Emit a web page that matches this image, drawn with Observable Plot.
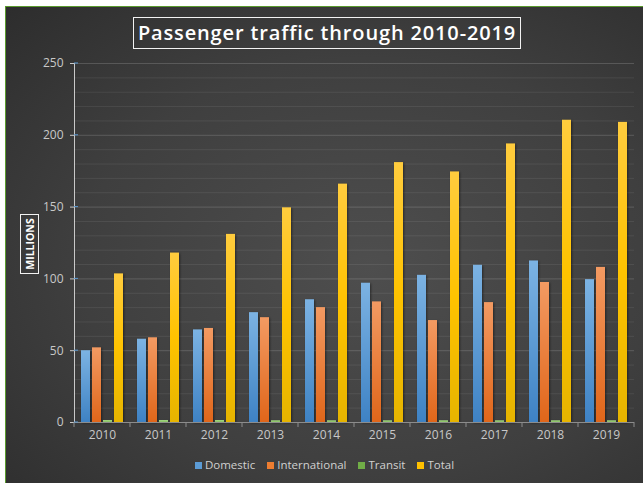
<!DOCTYPE html>
<html><head><meta charset="utf-8">
<script src="https://cdn.jsdelivr.net/npm/d3@7"></script>
<script src="https://cdn.jsdelivr.net/npm/@observablehq/plot@0.6"></script>
<style>
html,body{margin:0;padding:0;background:#fff;}
#wrap{position:relative;width:643px;height:483px;overflow:hidden;background:#fff;}
#frame{position:absolute;left:5px;top:6px;width:700px;height:540px;border:1.5px solid #5a9a2e;
  background: radial-gradient(ellipse 75% 70% at 52% 48%, #4e4e4e 0%, #3f3f3f 55%, #2c2c2c 100%);}
#title{position:absolute;left:133px;top:17px;width:386px;height:30px;border:1.5px solid #f2f2f2;
  color:#fff;font:600 20px "Open Sans",sans-serif;letter-spacing:0.85px;text-align:center;line-height:30px;white-space:nowrap;}
#ylab{position:absolute;left:20px;top:214px;width:17px;height:58px;border:1.5px solid #f2f2f2;}
#ylab span{position:absolute;left:50%;top:50%;transform:translate(-50%,-50%) rotate(-90deg);color:#fff;
  font:700 10.5px "Open Sans",sans-serif;white-space:nowrap;}
#chart{position:absolute;left:0;top:50px;}
#legend{position:absolute;top:457px;left:3px;width:643px;text-align:center;font:11.5px "Open Sans",sans-serif;color:#d0d0d0;white-space:nowrap;}
#legend .it{display:inline-block;margin:0 6px;}
#legend .sw{display:inline-block;width:7px;height:7px;margin-right:3px;vertical-align:0px;}
g[aria-label="y-axis"] path, g[aria-label="y-axis"] line{stroke:#5b9bd5;stroke-opacity:1;}
g[aria-label="y-axis"] text, g[aria-label="fx-axis"] text{fill:#c8c8c8;}
g[aria-label="bar"] rect{filter:drop-shadow(1px 1px 1px rgba(0,0,0,0.45));}
</style></head>
<body>
<svg width="0" height="0" style="position:absolute">
  <defs>
    <linearGradient id="gDom" x1="0" y1="0" x2="0" y2="1"><stop offset="0" stop-color="#7cb3e3"/><stop offset="1" stop-color="#3e82c4"/></linearGradient>
    <linearGradient id="gInt" x1="0" y1="0" x2="0" y2="1"><stop offset="0" stop-color="#f39a62"/><stop offset="1" stop-color="#e0661a"/></linearGradient>
    <linearGradient id="gTra" x1="0" y1="0" x2="0" y2="1"><stop offset="0" stop-color="#a6d886"/><stop offset="1" stop-color="#86c060"/></linearGradient>
    <linearGradient id="gTot" x1="0" y1="0" x2="0" y2="1"><stop offset="0" stop-color="#ffcc3e"/><stop offset="0.5" stop-color="#ffc300"/><stop offset="1" stop-color="#e6b400"/></linearGradient>
  </defs>
</svg>
<div id="wrap">
  <div id="frame"></div>
  <div id="title">Passenger traffic through 2010-2019</div>
  <div id="ylab"><span>MILLIONS</span></div>
  <div id="chart"></div>
  <div id="legend"></div>
</div>
<script>
const years = ["2010","2011","2012","2013","2014","2015","2016","2017","2018","2019"];
const seriesNames = ["Domestic","International","Transit","Total"];
const domestic = [50, 58, 64.5, 76.5, 85.5, 97, 102.5, 109.5, 112.5, 99.5];
const international = [52, 59, 65.5, 73, 80, 84, 71, 83.5, 97.5, 108];
const transit = [1.4, 1.4, 1.4, 1.2, 1.2, 1.2, 1.2, 1.2, 1.2, 1.2];
const total = [103.5, 118, 131, 149.5, 166, 181, 174.5, 194, 210.5, 209];
const majorTicks = [0, 50, 100, 150, 200, 250];
const minorTicks = [10,20,30,40,60,70,80,90,110,120,130,140,160,170,180,190,210,220,230,240];
const swatchColors = ["#5b9bd5","#ed7d31","#70ad47","#ffc000"];
const fills = ["url(#gDom)","url(#gInt)","url(#gTra)","url(#gTot)"];

const seriesValues = [domestic, international, transit, total];
const rows = [];
years.forEach((y, i) => seriesNames.forEach((s, j) => rows.push({year: y, series: s, value: seriesValues[j][i]})));

const chart = Plot.plot({
  width: 643, height: 400,
  marginLeft: 73, marginRight: 9, marginTop: 13, marginBottom: 28,
  style: {background: "transparent", fontFamily: "'Open Sans', sans-serif", fontSize: "12px", color: "#c8c8c8", overflow: "visible"},
  facet: {data: rows, x: "year"},
  fx: {domain: years, padding: 0, label: null, axis: "bottom", tickSize: 0, tickPadding: 8},
  x: {domain: seriesNames, paddingInner: 0.19, paddingOuter: 0.43, axis: null},
  y: {domain: [0, 250], ticks: majorTicks, tickSize: 4, tickPadding: 7, label: null, line: true},
  color: {domain: seriesNames, range: fills},
  marks: [
    Plot.ruleY(minorTicks, {stroke: "#ffffff", strokeOpacity: 0.08}),
    Plot.ruleY(majorTicks.filter(d => d > 0), {stroke: "#ffffff", strokeOpacity: 0.16}),
    Plot.barY(rows, {x: "series", y: "value", fill: "series"}),
    Plot.ruleY([0], {stroke: "#8c8c8c", strokeWidth: 1})
  ]
});
document.getElementById("chart").appendChild(chart);

// boundary tick marks on the category axis, and y ticks crossing the axis line
try {
  const fx = chart.scale("fx");
  const y = chart.scale("y");
  const y0 = y.apply(0);
  const bounds = years.map(d => fx.apply(d)).concat([fx.apply(years[years.length-1]) + fx.bandwidth]);
  const g = d3.select(chart).append("g").attr("stroke", "#8c8c8c");
  bounds.forEach(b => g.append("line").attr("x1", b).attr("x2", b).attr("y1", y0).attr("y2", y0 + 5));
  const x0 = fx.apply(years[0]);
  const gy = d3.select(chart).append("g").attr("stroke", "#5b9bd5");
  majorTicks.forEach(t => gy.append("line").attr("x1", x0).attr("x2", x0 + 4).attr("y1", y.apply(t)).attr("y2", y.apply(t)));
} catch (e) {}

const legend = document.getElementById("legend");
seriesNames.forEach((s, i) => {
  const it = document.createElement("span");
  it.className = "it";
  it.innerHTML = `<span class="sw" style="background:${swatchColors[i]}"></span>${s}`;
  legend.appendChild(it);
});
</script>
</body></html>
